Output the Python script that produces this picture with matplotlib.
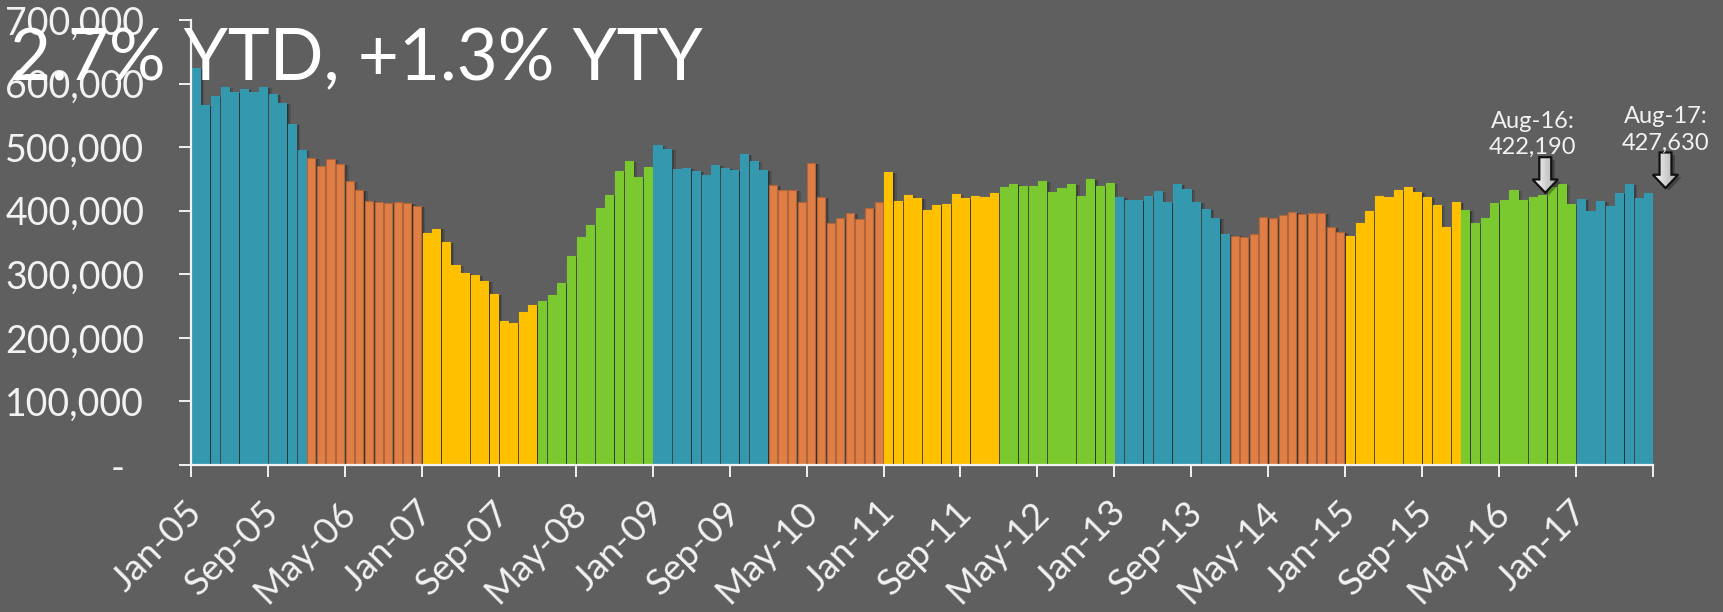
import numpy as np
import matplotlib.pyplot as plt
from matplotlib.colors import LinearSegmentedColormap
from matplotlib.patches import Polygon
from matplotlib.transforms import ScaledTranslation

# monthly values, Jan-05 .. Aug-17
sales_2005 = [625000, 567000, 581000, 594000, 586000, 591000, 587000, 594000, 584000, 570000, 537000, 496000]
sales_2006 = [483000, 470000, 482000, 473000, 446000, 433000, 416000, 414000, 412000, 414000, 412000, 408000]
sales_2007 = [365000, 372000, 350000, 315000, 302000, 299000, 290000, 269000, 227000, 224000, 241000, 252000]
sales_2008 = [258000, 268000, 287000, 329000, 359000, 378000, 405000, 424000, 462000, 478000, 453000, 469000]
sales_2009 = [503000, 497000, 465000, 467000, 462000, 456000, 472000, 467000, 464000, 489000, 478000, 464000]
sales_2010 = [440000, 433000, 432000, 414000, 475000, 422000, 380000, 389000, 396000, 387000, 404000, 414000]
sales_2011 = [461000, 415000, 425000, 420000, 401000, 409000, 410000, 426000, 420000, 423000, 421000, 428000]
sales_2012 = [437000, 442000, 439000, 439000, 447000, 429000, 436000, 442000, 423000, 450000, 439000, 443000]
sales_2013 = [421000, 417000, 417000, 423000, 431000, 414000, 442000, 434000, 414000, 403000, 388000, 363000]
sales_2014 = [361000, 358000, 364000, 390000, 388000, 393000, 398000, 395000, 396000, 397000, 375000, 366000]
sales_2015 = [360000, 381000, 399000, 423000, 421000, 432000, 437000, 429000, 421000, 409000, 374000, 414000]
sales_2016 = [401000, 380000, 388000, 412000, 417000, 432000, 417000, 422190, 425000, 437000, 442000, 410000]
sales_2017 = [418000, 399000, 415000, 407000, 428000, 442000, 420000, 427630]

yearly = [sales_2005, sales_2006, sales_2007, sales_2008, sales_2009, sales_2010, sales_2011,
          sales_2012, sales_2013, sales_2014, sales_2015, sales_2016, sales_2017]
year_colors = ['#3498af', '#e07f45', '#ffc000', '#7ac92e']

tick_labels = ['Jan-05', 'Sep-05', 'May-06', 'Jan-07', 'Sep-07', 'May-08', 'Jan-09', 'Sep-09',
               'May-10', 'Jan-11', 'Sep-11', 'May-12', 'Jan-13', 'Sep-13', 'May-14', 'Jan-15',
               'Sep-15', 'May-16', 'Jan-17', '']
y_ticks = [0, 100000, 200000, 300000, 400000, 500000, 600000, 700000]

callout_names = ['Aug-16', 'Aug-17']
callout_idx = [139, 151]

bg = '#5f5f5f'
fg = '#f2f2f2'
font = 'Lato'

values = np.concatenate([np.array(v, dtype=float) for v in yearly])
colors = []
for i, v in enumerate(yearly):
    colors += [year_colors[i % 4]] * len(v)
x = np.arange(len(values)) + 0.5

fig = plt.figure(figsize=(17.23, 6.12), dpi=100, facecolor=bg)
ax = fig.add_axes([191 / 1723, 147 / 612, 1462 / 1723, 445 / 612])
ax.set_facecolor(bg)

# soft drop shadow behind the bars
for dx, a in [(0.12, 0.30), (0.28, 0.22), (0.45, 0.14)]:
    ax.bar(x + dx, values - 1500, width=0.85, color='black', alpha=a, linewidth=0, zorder=1)

edge = ['#b0643a' if c == '#e07f45' else c for c in colors]
ax.bar(x, values, width=0.84, color=colors, edgecolor=edge, linewidth=0.8, zorder=2)

for s in ['top', 'right']:
    ax.spines[s].set_visible(False)
for s in ['left', 'bottom']:
    ax.spines[s].set_color(fg)
    ax.spines[s].set_linewidth(1.6)

ax.set_yticks(y_ticks, ['-  '] + [f'{v:,}' for v in y_ticks[1:]])
ax.tick_params(axis='y', direction='out', length=8.6, width=1.4, color=fg, pad=25,
               labelsize=27, labelcolor=fg)
for lab in ax.get_yticklabels():
    lab.set_family(font)

ax.set_xticks(np.arange(0, len(values) + 1, 8), tick_labels, rotation=45, ha='right',
              rotation_mode='anchor')
ax.tick_params(axis='x', direction='out', length=8.6, width=1.4, color=fg, pad=13,
               labelsize=26.5, labelcolor=fg)
offset = ScaledTranslation(-6 / 100, 0, fig.dpi_scale_trans)
for lab in ax.get_xticklabels():
    lab.set_family(font)
    lab.set_transform(lab.get_transform() + offset)

arrow_cmap = LinearSegmentedColormap.from_list('arrow', ['#fbfbfb', '#a5a5a5'])


def block_arrow(tip_x, tip_y):
    sw, hw = 0.62, 1.32
    hl, total = 21000, 56000
    verts = [(tip_x - sw, tip_y + total), (tip_x + sw, tip_y + total), (tip_x + sw, tip_y + hl),
             (tip_x + hw, tip_y + hl), (tip_x, tip_y), (tip_x - hw, tip_y + hl),
             (tip_x - sw, tip_y + hl)]
    shadow = Polygon([(vx + 0.35, vy - 4000) for vx, vy in verts], closed=True,
                     facecolor='black', alpha=0.3, linewidth=0, zorder=5, clip_on=False)
    ax.add_patch(shadow)
    poly = Polygon(verts, closed=True, facecolor='none', edgecolor='#111111',
                   linewidth=1.6, zorder=7, clip_on=False)
    ax.add_patch(poly)
    grad = np.linspace(0, 1, 50).reshape(1, -1)
    im = ax.imshow(grad, extent=[tip_x - hw, tip_x + hw, tip_y, tip_y + total],
                   cmap=arrow_cmap, aspect='auto', zorder=6)
    im.set_clip_box(fig.bbox)
    im.set_clip_path(poly)
    return tip_y + total


for name, idx, dx, dy in zip(callout_names, callout_idx, [1.3, 1.8], [6000, 8000]):
    top = block_arrow(x[idx] + dx, values[idx] + dy)
    tx = x[idx] if dx < 1.5 else x[idx] + dx
    ax.text(tx, top - 1500, f'{name}:\n{values[idx]:,.0f}', ha='center', va='bottom',
            fontsize=17, color=fg, family=font, linespacing=1.3, zorder=8, clip_on=False)

ax.set_xlim(0, len(values))
ax.set_ylim(0, 700000)

fig.text(703 / 1723, 1 - 80 / 612, '2.7% YTD, +1.3% YTY', ha='right', va='baseline',
         fontsize=51, color='white', family=font, zorder=10)

fig.savefig('out.png', dpi=100, facecolor=bg)
